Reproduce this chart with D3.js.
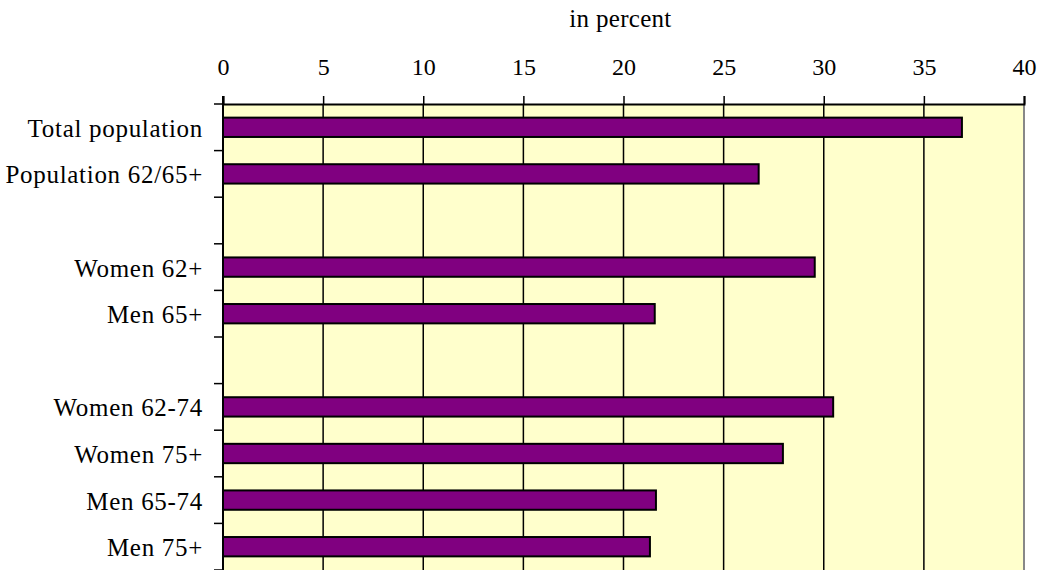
<!DOCTYPE html>
<html>
<head>
<meta charset="utf-8">
<script src="https://cdn.jsdelivr.net/npm/d3@7"></script>
<style>
  html, body { margin: 0; padding: 0; background: #ffffff; }
  svg { display: block; }
  text { font-family: "Liberation Serif", "Times New Roman", serif; fill: #000; }
</style>
</head>
<body>
<svg id="chart" width="1042" height="570"></svg>
<script>
// ---- data ----
const categories = ["Total population", "Population 62/65+", "", "Women 62+", "Men 65+", "", "Women 62-74", "Women 75+", "Men 65-74", "Men 75+"];
const values = [36.9, 26.75, null, 29.55, 21.56, null, 30.47, 27.96, 21.62, 21.32];
const xTicks = [0, 5, 10, 15, 20, 25, 30, 35, 40];
const axisTitle = "in percent";

// ---- layout ----
const W = 1042, H = 570;
const plot = { left: 223, right: 1024, top: 104, bottom: 570 };
const svg = d3.select("#chart");

const x = d3.scaleLinear().domain([0, 40]).range([plot.left, plot.right]);
const idx = d3.range(categories.length);
const y = d3.scaleBand().domain(idx).range([plot.top, plot.bottom]).padding(0);
const barH = y.bandwidth() * 0.415;

// background
svg.append("rect")
  .attr("x", plot.left).attr("y", plot.top)
  .attr("width", plot.right - plot.left).attr("height", plot.bottom - plot.top)
  .attr("fill", "#FFFFCC");

// right border (grey)
svg.append("line")
  .attr("x1", plot.right).attr("x2", plot.right)
  .attr("y1", plot.top).attr("y2", plot.bottom)
  .attr("stroke", "#888").attr("stroke-width", 2);

// gridlines
svg.append("g").selectAll("line")
  .data(xTicks.filter(d => d > 0 && d < 40))
  .join("line")
  .attr("x1", d => x(d)).attr("x2", d => x(d))
  .attr("y1", plot.top).attr("y2", plot.bottom)
  .attr("stroke", "#000").attr("stroke-width", 1.5);

// bars
svg.append("g").selectAll("rect")
  .data(idx.filter(i => values[i] != null))
  .join("rect")
  .attr("x", x(0))
  .attr("y", i => y(i) + y.bandwidth() / 2 - barH / 2)
  .attr("width", i => x(values[i]) - x(0))
  .attr("height", barH)
  .attr("fill", "#800080")
  .attr("stroke", "#000")
  .attr("stroke-width", 2);

// top axis
const xAxis = d3.axisTop(x).tickValues(xTicks).tickSize(8).tickPadding(12).tickFormat(d3.format("d"));
const gx = svg.append("g").attr("transform", `translate(0,${plot.top})`).call(xAxis);
gx.select(".domain").attr("stroke", "#000").attr("stroke-width", 2);
gx.selectAll(".tick line").attr("stroke", "#000").attr("stroke-width", 1.5);
gx.selectAll(".tick text")
  .attr("font-family", "Liberation Serif, Times New Roman, serif")
  .attr("font-size", 24).attr("fill", "#000")
  .attr("y", -29).attr("dy", 0);

// axis title
svg.append("text")
  .attr("x", (plot.left + plot.right) / 2 - 3)
  .attr("y", 27)
  .attr("text-anchor", "middle")
  .attr("font-size", 25)
  .attr("letter-spacing", 0.3)
  .text(axisTitle);

// left axis line and ticks at band boundaries
svg.append("line")
  .attr("x1", plot.left).attr("x2", plot.left)
  .attr("y1", plot.top - 8).attr("y2", plot.bottom)
  .attr("stroke", "#000").attr("stroke-width", 2);
const bounds = idx.map(i => y(i)).concat([plot.bottom]);
svg.append("g").selectAll("line")
  .data(bounds)
  .join("line")
  .attr("x1", plot.left - 9).attr("x2", plot.left)
  .attr("y1", d => d).attr("y2", d => d)
  .attr("stroke", "#000").attr("stroke-width", 1.5);

// category labels
svg.append("g").selectAll("text")
  .data(idx.filter(i => categories[i] !== ""))
  .join("text")
  .attr("x", 203)
  .attr("y", i => y(i) + y.bandwidth() / 2 + 9.5)
  .attr("text-anchor", "end")
  .attr("font-size", 25)
  .attr("letter-spacing", 0.7)
  .text(i => categories[i]);
</script>
</body>
</html>
